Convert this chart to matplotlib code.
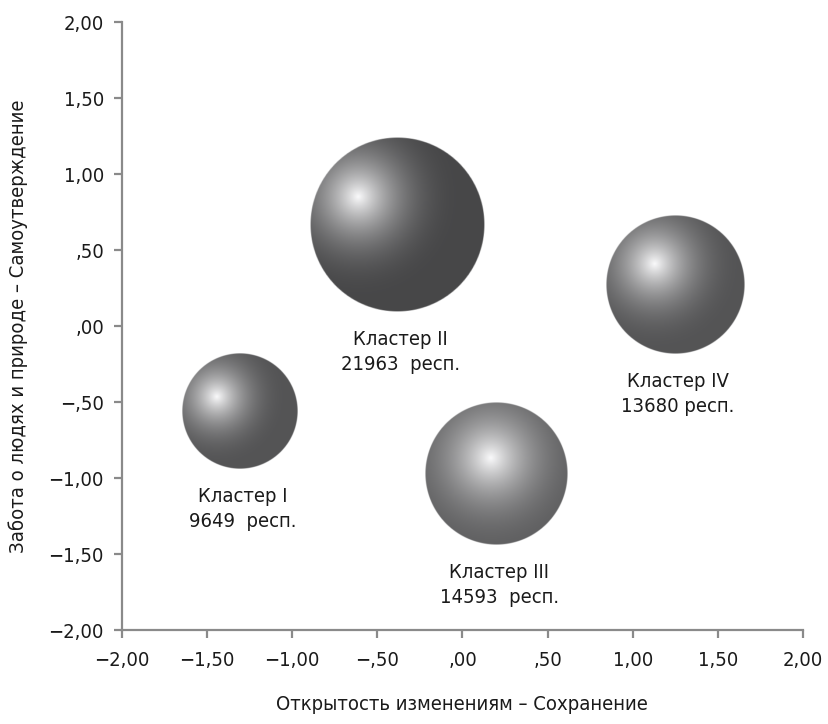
import matplotlib
matplotlib.use("Agg")
import matplotlib.pyplot as plt
from matplotlib import font_manager
import numpy as np

# narrow font if one is available
_fp = font_manager.FontProperties(family="DejaVu Sans", stretch="condensed")
if "Condensed" in font_manager.findfont(_fp):
    plt.rcParams["font.family"] = ["DejaVu Sans"]
    plt.rcParams["font.stretch"] = "condensed"
else:
    plt.rcParams["font.family"] = ["Liberation Sans", "DejaVu Sans"]
FS = 14.5

# cluster data
clusters = ["Кластер I", "Кластер II", "Кластер III", "Кластер IV"]
x_vals = [-1.31, -0.38, 0.20, 1.25]
y_vals = [-0.56, 0.67, -0.97, 0.27]
counts = [9649, 21963, 14593, 13680]
resp_labels = ["9649  респ.", "21963  респ.", "14593  респ.", "13680 респ."]

tick_vals = [-2.0, -1.5, -1.0, -0.5, 0.0, 0.5, 1.0, 1.5, 2.0]
tick_labels = ["−2,00", "−1,50", "−1,00", "−,50", ",00", ",50", "1,00", "1,50", "2,00"]

xlabel = "Открытость изменениям – Сохранение"
ylabel = "Забота о людях и природе – Самоутверждение"

# highlight offset of each sphere (fraction of radius, +y is up), and shade
highlight = [(-0.40, 0.25), (-0.45, 0.32), (-0.08, 0.22), (-0.30, 0.30)]
base_grey = [0.33, 0.28, 0.37, 0.33]
spread = [1.25, 1.2, 1.45, 1.3]

W, H, DPI = 829, 724, 100
fig = plt.figure(figsize=(W / DPI, H / DPI), dpi=DPI)
ax = fig.add_axes([122 / W, (H - 630) / H, (803 - 122) / W, (630 - 22) / H])
ax.set_xlim(-2, 2)
ax.set_ylim(-2, 2)

# pixels per data unit, to keep spheres round
px_x = ax.get_position().width * W / 4.0
px_y = ax.get_position().height * H / 4.0


def sphere_img(hx, hy, base, sp, n=300):
    u = np.linspace(-1, 1, n)
    X, Y = np.meshgrid(u, u[::-1])
    R = np.sqrt(X ** 2 + Y ** 2)
    d = np.sqrt((X - hx) ** 2 + (Y - hy) ** 2)
    light = np.clip(1 - d / sp, 0, 1) ** 2.3
    g = base + (0.98 - base) * light
    img = np.zeros((n, n, 4))
    img[..., 0] = g
    img[..., 1] = g
    img[..., 2] = g + 0.005
    edge = 1.0 / n * 2
    img[..., 3] = np.clip((1 - R) / edge, 0, 1)
    return np.clip(img, 0, 1)


for i in range(len(clusters)):
    r_px = 0.59 * np.sqrt(counts[i])
    rx, ry = r_px / px_x, r_px / px_y
    img = sphere_img(highlight[i][0], highlight[i][1], base_grey[i], spread[i])
    ax.imshow(img, extent=[x_vals[i] - rx, x_vals[i] + rx, y_vals[i] - ry, y_vals[i] + ry],
              interpolation="bilinear", zorder=2, aspect="auto")
    ax.annotate(clusters[i] + "\n" + resp_labels[i], (x_vals[i], y_vals[i] - ry),
                xytext=(2, -13), textcoords="offset points", ha="center", va="top",
                fontsize=FS, linespacing=1.4, color="#1a1a1a")

ax.set_xlim(-2, 2)
ax.set_ylim(-2, 2)
ax.set_xticks(tick_vals)
ax.set_xticklabels(tick_labels)
ax.set_yticks(tick_vals)
ax.set_yticklabels(tick_labels)

for s in ["top", "right"]:
    ax.spines[s].set_visible(False)
for s in ["left", "bottom"]:
    ax.spines[s].set_color("#8a8a8a")
    ax.spines[s].set_linewidth(1.6)
ax.tick_params(colors="#8a8a8a", labelcolor="#1a1a1a", length=6, width=1.6,
               labelsize=FS)
ax.tick_params(axis="x", pad=9)
ax.tick_params(axis="y", pad=7)

fig.text(462 / W, 1 - 705 / H, xlabel, ha="center", va="center", fontsize=FS, color="#1a1a1a")
fig.text(18 / W, 1 - 326 / H, ylabel, ha="center", va="center", rotation=90,
         fontsize=FS, color="#1a1a1a")

fig.savefig("out.png", dpi=DPI)
